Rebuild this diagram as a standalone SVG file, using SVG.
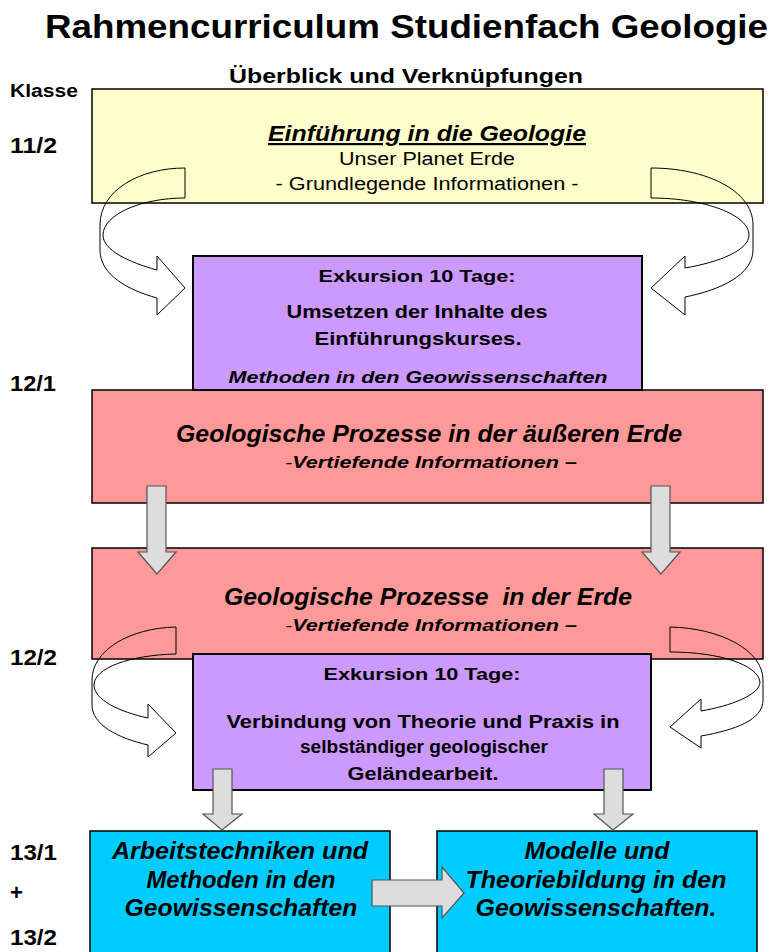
<svg xmlns="http://www.w3.org/2000/svg" width="777" height="952" viewBox="0 0 777 952">
<style>
text{font-family:"Liberation Sans",Arial,sans-serif;fill:#000}
.b{font-weight:bold}
.bi{font-weight:bold;font-style:italic}
.box{stroke:#000;stroke-width:1.5}
.pur{fill:#CC99FF;stroke:#000;stroke-width:2}
.curve{fill:none;stroke:#000;stroke-width:1}
.blk{fill:#DDDDDD;stroke:#555;stroke-width:1.2}
</style>
<rect width="777" height="952" fill="#fff"/>
<g id="header">
<text x="406.5" y="38" font-size="34" class="b" text-anchor="middle" textLength="723" lengthAdjust="spacingAndGlyphs">Rahmencurriculum Studienfach Geologie</text>
<text x="406" y="83" font-size="20" class="b" text-anchor="middle" textLength="354" lengthAdjust="spacingAndGlyphs">Überblick und Verknüpfungen</text>
<text x="10" y="97" font-size="18" class="b" textLength="68" lengthAdjust="spacingAndGlyphs">Klasse</text>
<text x="10" y="153" font-size="22" class="b" textLength="47" lengthAdjust="spacingAndGlyphs">11/2</text>
<text x="10" y="391" font-size="22" class="b" textLength="46" lengthAdjust="spacingAndGlyphs">12/1</text>
<text x="10" y="665" font-size="22" class="b" textLength="47" lengthAdjust="spacingAndGlyphs">12/2</text>
<text x="10" y="860" font-size="22" class="b" textLength="47" lengthAdjust="spacingAndGlyphs">13/1</text>
<text x="10" y="900" font-size="22" class="b">+</text>
<text x="10" y="945" font-size="22" class="b" textLength="47" lengthAdjust="spacingAndGlyphs">13/2</text>
</g>
<g id="einfuehrung">
<rect x="92" y="89" width="671" height="114" fill="#FFFFCC" class="box"/>
<text x="427" y="141" font-size="22" class="bi" text-anchor="middle" text-decoration="underline" textLength="318" lengthAdjust="spacingAndGlyphs">Einführung in die Geologie</text>
<text x="427" y="165" font-size="18" text-anchor="middle" textLength="176" lengthAdjust="spacingAndGlyphs">Unser Planet Erde</text>
<text x="427" y="190" font-size="18" text-anchor="middle" textLength="303" lengthAdjust="spacingAndGlyphs">- Grundlegende Informationen -</text>
</g>
<g id="prozesse-aussen">
<rect x="92" y="390" width="671" height="113" fill="#FF9999" class="box"/>
<text x="429" y="442" font-size="23" class="bi" text-anchor="middle" textLength="506" lengthAdjust="spacingAndGlyphs">Geologische Prozesse in der äußeren Erde</text>
<text x="431" y="468" font-size="17" class="bi" text-anchor="middle" textLength="292" lengthAdjust="spacingAndGlyphs"><tspan font-weight="normal">-</tspan>Vertiefende Informationen –</text>
</g>
<g id="exkursion1">
<rect x="193" y="256" width="449" height="134" class="pur"/>
<text x="417" y="282" font-size="17" class="b" text-anchor="middle" textLength="197" lengthAdjust="spacingAndGlyphs">Exkursion 10 Tage:</text>
<text x="417" y="318" font-size="18" class="b" text-anchor="middle" textLength="261" lengthAdjust="spacingAndGlyphs">Umsetzen der Inhalte des</text>
<text x="418" y="345" font-size="18" class="b" text-anchor="middle" textLength="207" lengthAdjust="spacingAndGlyphs">Einführungskurses.</text>
<text x="418" y="383" font-size="17" class="bi" text-anchor="middle" textLength="379" lengthAdjust="spacingAndGlyphs">Methoden in den Geowissenschaften</text>
</g>
<g id="prozesse-erde">
<rect x="92" y="548" width="671" height="111" fill="#FF9999" class="box"/>
<text x="428" y="605" font-size="23" class="bi" text-anchor="middle" textLength="408" lengthAdjust="spacingAndGlyphs" xml:space="preserve">Geologische Prozesse  in der Erde</text>
<text x="431" y="631" font-size="17" class="bi" text-anchor="middle" textLength="292" lengthAdjust="spacingAndGlyphs"><tspan font-weight="normal">-</tspan>Vertiefende Informationen –</text>
</g>
<g id="exkursion2">
<rect x="193" y="654" width="458" height="136" class="pur"/>
<text x="422" y="680" font-size="17" class="b" text-anchor="middle" textLength="197" lengthAdjust="spacingAndGlyphs">Exkursion 10 Tage:</text>
<text x="423" y="728" font-size="18" class="b" text-anchor="middle" textLength="393" lengthAdjust="spacingAndGlyphs">Verbindung von Theorie und Praxis in</text>
<text x="424" y="753" font-size="18" class="b" text-anchor="middle" textLength="248" lengthAdjust="spacingAndGlyphs">selbständiger geologischer</text>
<text x="423" y="780" font-size="18" class="b" text-anchor="middle" textLength="151" lengthAdjust="spacingAndGlyphs">Geländearbeit.</text>
</g>
<g id="arbeitstechniken">
<rect x="90" y="831" width="300" height="125" fill="#00CCFF" class="box"/>
<text x="240" y="859" font-size="23" class="bi" text-anchor="middle" textLength="256" lengthAdjust="spacingAndGlyphs">Arbeitstechniken und</text>
<text x="241" y="888" font-size="23" class="bi" text-anchor="middle" textLength="189" lengthAdjust="spacingAndGlyphs">Methoden in den</text>
<text x="241" y="916" font-size="23" class="bi" text-anchor="middle" textLength="233" lengthAdjust="spacingAndGlyphs">Geowissenschaften</text>
</g>
<g id="modelle">
<rect x="437" y="831" width="320" height="125" fill="#00CCFF" class="box"/>
<text x="597" y="859" font-size="23" class="bi" text-anchor="middle" textLength="145" lengthAdjust="spacingAndGlyphs">Modelle und</text>
<text x="596" y="888" font-size="23" class="bi" text-anchor="middle" textLength="261" lengthAdjust="spacingAndGlyphs">Theoriebildung in den</text>
<text x="596" y="916" font-size="23" class="bi" text-anchor="middle" textLength="241" lengthAdjust="spacingAndGlyphs">Geowissenschaften.</text>
</g>
<g id="connectors">
<path class="curve" d="M185,168 C140,168 100,190 100,225 L100,250 C100,275 128,290 157,298 L157,315 L185,288 L157,256 L157,270 C128,262 103,250 103,235 C103,215 140,198 185,198 Z"/>
<path class="curve" d="M651,168 C705,168 753,190 753,225 L753,250 C753,275 720,290 685,297 L685,315 L651,288 L685,256 L685,268 C720,262 749,250 749,235 C749,215 705,198 651,198 Z"/>
<path class="curve" d="M176,627 C130,628 92,650 92,680 L92,705 C92,725 118,738 148,745 L148,757 L176,733 L148,704 L148,718 C120,712 94,700 94,685 C94,668 130,655 176,654 Z"/>
<path class="curve" d="M670,627 C720,628 763,650 763,680 L763,700 C763,720 735,730 701,736 L701,748 L670,727 L701,699 L701,711 C730,706 760,695 760,682 C758,665 720,652 670,652 Z"/>
<path class="blk" d="M147,486 L166,486 L166,552 L176,552 L157,574 L138,552 L147,552 Z"/>
<path class="blk" d="M651,486 L670,486 L670,552 L680,552 L661,574 L642,552 L651,552 Z"/>
<path class="blk" d="M213,769 L232,769 L232,814 L242,814 L222,830 L203,814 L213,814 Z"/>
<path class="blk" d="M604,769 L623,769 L623,814 L633,814 L613,830 L594,814 L604,814 Z"/>
<path class="blk" d="M372,880 L442,880 L442,867 L464,893 L442,918 L442,906 L372,906 Z"/>
</g>
</svg>
